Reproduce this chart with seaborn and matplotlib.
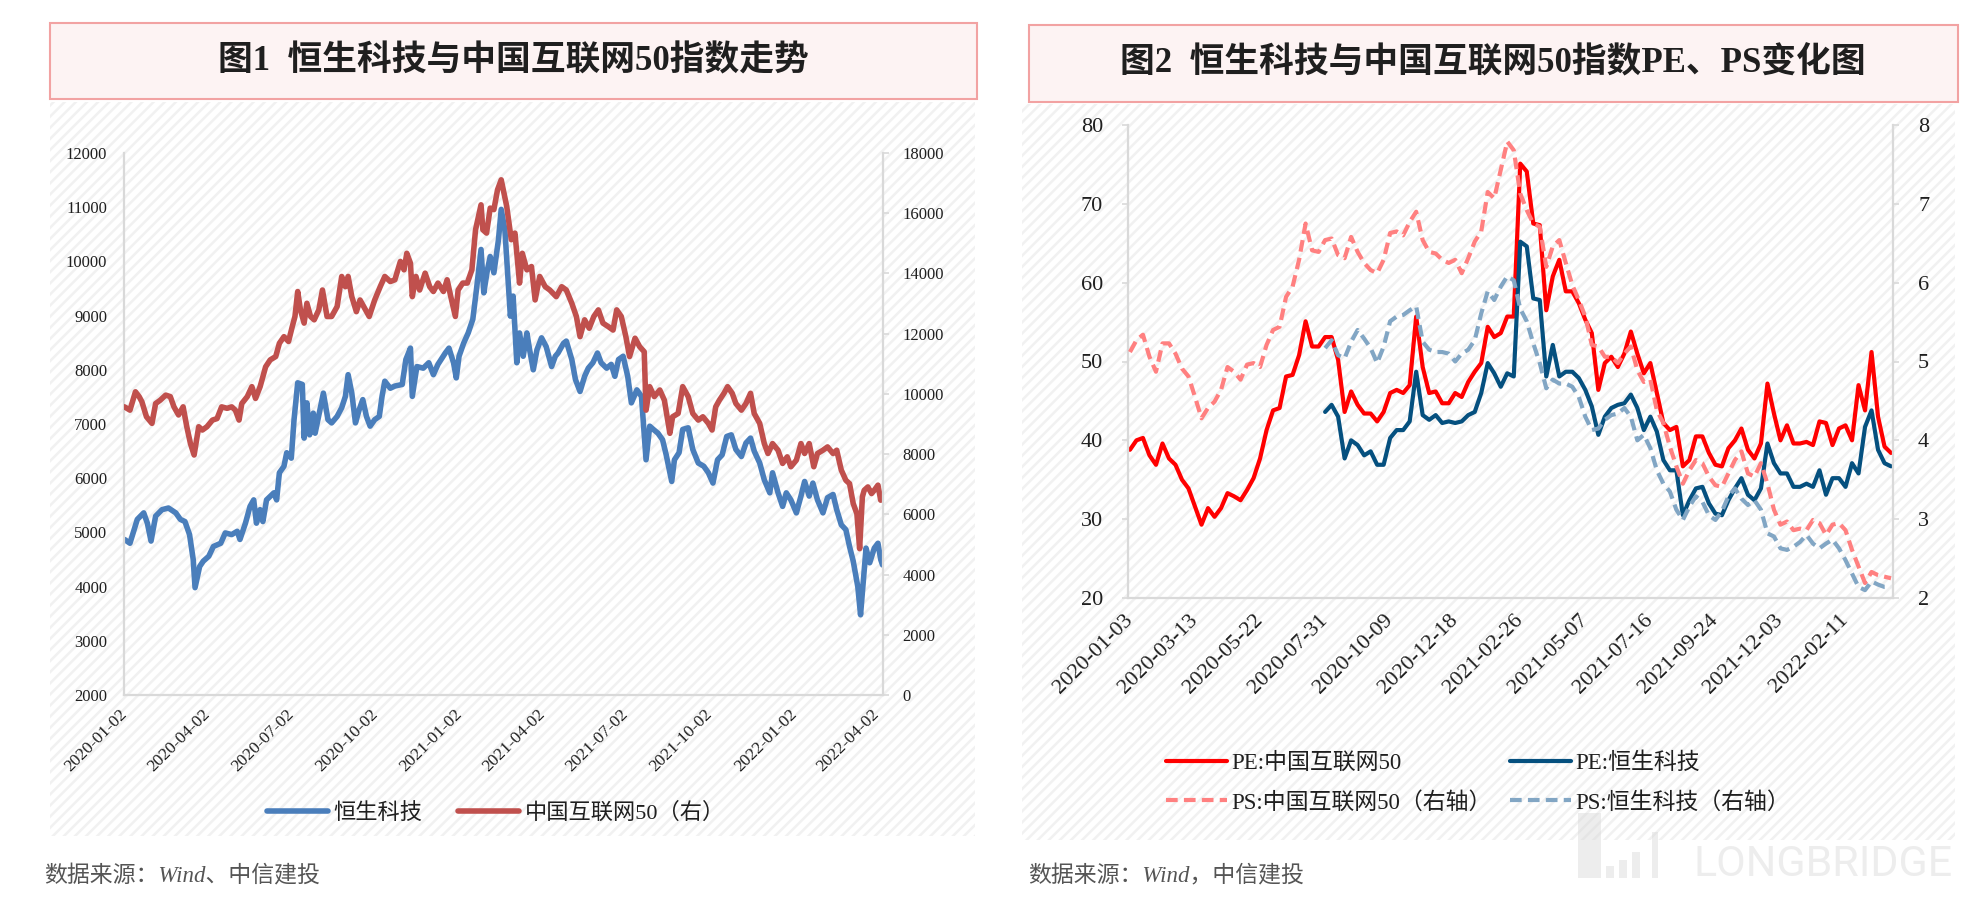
import numpy as np
import pandas as pd
import matplotlib
matplotlib.use("Agg")
import matplotlib.pyplot as plt
from matplotlib.patches import Rectangle
import seaborn as sns

# ---------------- Figure 1 data (daily index levels, sampled) ----------------
fig1_start = "2020-01-02"
# days since 2020-01-02 at which the values were read
hstech_day = [0, 6, 14, 21, 25, 29, 34, 41, 48, 56,
              61, 66, 71, 75, 77, 82, 86, 92, 97, 105,
              110, 117, 123, 126, 132, 137, 141, 144, 148, 151,
              155, 163, 166, 169, 174, 177, 182, 185, 189, 194,
              196, 199, 202, 206, 208, 214, 217, 222, 226, 232,
              237, 241, 244, 248, 252, 256, 260, 264, 268, 273,
              278, 281, 284, 290, 295, 303, 307, 312, 314, 319,
              326, 332, 337, 342, 350, 354, 359, 362, 365, 370,
              375, 380, 384, 389, 392, 396, 399, 403, 408, 411,
              415, 419, 421, 424, 428, 431, 435, 439, 442, 446,
              450, 455, 460, 466, 470, 473, 479, 482, 488, 492,
              497, 502, 506, 511, 516, 520, 526, 531, 535, 539,
              544, 549, 553, 559, 564, 569, 573, 577, 582, 587,
              591, 597, 600, 605, 609, 615, 620, 626, 632, 637,
              642, 647, 652, 657, 662, 667, 673, 678, 683, 687,
              693, 698, 704, 707, 713, 718, 722, 727, 733, 738,
              742, 747, 751, 756, 762, 767, 773, 777, 782, 787,
              791, 795, 798, 800, 803, 806, 809, 813, 818, 822,
              825, 827]
hstech_val = [4870, 4800, 5240, 5360, 5170, 4840, 5300, 5420, 5450, 5360,
              5240, 5200, 4960, 4500, 3980, 4370, 4470, 4560, 4740, 4800,
              4990, 4960, 5020, 4870, 5170, 5480, 5600, 5170, 5420, 5200,
              5600, 5730, 5600, 6100, 6220, 6470, 6370, 7080, 7760, 7730,
              6740, 7390, 6800, 7200, 6830, 7330, 7570, 7080, 7020, 7140,
              7300, 7510, 7910, 7570, 7020, 7260, 7450, 7140, 6960, 7080,
              7140, 7510, 7790, 7660, 7700, 7730, 8190, 8400, 7510, 8060,
              8030, 8130, 7910, 8100, 8310, 8400, 8130, 7850, 8250, 8490,
              8680, 8930, 9480, 10220, 9420, 9850, 10090, 9790, 10400, 10960,
              10580, 9540, 8990, 9360, 8130, 8680, 8250, 8680, 8370, 8000,
              8370, 8590, 8430, 8060, 8250, 8310, 8490, 8530, 8190, 7820,
              7600, 7880, 8030, 8130, 8310, 8130, 8030, 8100, 7880, 8190,
              8250, 7880, 7390, 7630, 7510, 6340, 6960, 6900, 6830, 6710,
              6430, 5940, 6340, 6470, 6900, 6930, 6530, 6280, 6220, 6100,
              5910, 6340, 6430, 6770, 6800, 6530, 6400, 6650, 6740, 6500,
              6280, 5970, 5730, 6100, 5730, 5480, 5730, 5600, 5360, 5670,
              5940, 5670, 5910, 5600, 5360, 5640, 5700, 5420, 5140, 5050,
              4740, 4470, 4190, 4000, 3480, 4100, 4710, 4440, 4710, 4800,
              4500, 4400]

cn50_day = [0, 6, 12, 16, 19, 24, 30, 34, 39, 45,
            50, 54, 59, 64, 68, 72, 76, 81, 85, 90,
            96, 101, 106, 112, 117, 121, 125, 128, 134, 139,
            143, 148, 154, 159, 165, 169, 174, 179, 183, 186,
            189, 192, 196, 199, 203, 207, 212, 216, 221, 226,
            232, 237, 241, 244, 248, 253, 257, 263, 267, 273,
            279, 284, 290, 295, 301, 305, 308, 312, 314, 318,
            322, 328, 333, 337, 342, 348, 352, 356, 361, 364,
            369, 374, 379, 383, 389, 391, 395, 399, 403, 407,
            411, 417, 422, 426, 431, 434, 439, 444, 448, 453,
            459, 464, 471, 477, 482, 488, 493, 497, 502, 507,
            512, 517, 522, 528, 533, 537, 542, 547, 551, 557,
            562, 567, 569, 573, 578, 584, 589, 595, 598, 604,
            609, 615, 620, 626, 631, 637, 641, 645, 649, 654,
            658, 663, 667, 673, 678, 683, 687, 693, 698, 702,
            707, 713, 718, 723, 727, 733, 738, 742, 747, 752,
            756, 762, 767, 773, 777, 782, 787, 791, 795, 799,
            802, 805, 807, 811, 815, 818, 822, 825, 827]
cn50_val = [9570, 9460, 10070, 9910, 9740, 9240, 9020, 9680, 9790, 9960,
            9910, 9570, 9300, 9570, 8910, 8350, 7970, 8910, 8800, 8910,
            9130, 9180, 9570, 9520, 9570, 9460, 9130, 9680, 9910, 10240,
            9850, 10240, 10900, 11130, 11240, 11680, 11900, 11740, 12230, 12570,
            13400, 12790, 12350, 13010, 12570, 12460, 12790, 13450, 12570, 12570,
            12900, 13900, 13560, 13900, 13230, 12730, 13120, 12790, 12570, 13120,
            13560, 13900, 13730, 13790, 14400, 14120, 14670, 14340, 13230, 13900,
            13450, 14010, 13560, 13400, 13680, 13400, 13790, 13230, 12570, 13450,
            13680, 13680, 14120, 15450, 16280, 15450, 15340, 16170, 16120, 16780,
            17110, 16230, 15120, 15340, 13680, 14670, 14120, 14230, 13120, 13900,
            13560, 13450, 13230, 13560, 13450, 13010, 12570, 11900, 12460, 12180,
            12570, 12790, 12350, 12230, 12120, 12790, 12570, 11900, 11240, 11850,
            11570, 11400, 9460, 10240, 9910, 10130, 9790, 8690, 9240, 9350,
            10240, 9910, 9350, 9130, 9240, 9020, 8800, 9570, 9790, 10020,
            10240, 10020, 9680, 9460, 9680, 10020, 9350, 9020, 8350, 8020,
            8350, 8130, 7690, 7910, 7580, 7800, 8350, 8020, 8350, 7580,
            8020, 8130, 8240, 8020, 8130, 7470, 7130, 7020, 6360, 6020,
            4860, 6580, 6800, 6910, 6690, 6800, 6970, 6470, 6500]

fig1_xticks = ["2020-01-02", "2020-04-02", "2020-07-02", "2020-10-02", "2021-01-02",
               "2021-04-02", "2021-07-02", "2021-10-02", "2022-01-02", "2022-04-02"]
fig1_left_ticks = [2000, 3000, 4000, 5000, 6000, 7000, 8000, 9000, 10000, 11000, 12000]
fig1_right_ticks = [0, 2000, 4000, 6000, 8000, 10000, 12000, 14000, 16000, 18000]

# ---------------- Figure 2 data (weekly, from 2020-01-03) ----------------
fig2_first_week = "2020-01-03"
fig2_xticklabels = ["2020-01-03", "2020-03-13", "2020-05-22", "2020-07-31", "2020-10-09",
                    "2020-12-18", "2021-02-26", "2021-05-07", "2021-07-16", "2021-09-24",
                    "2021-12-03", "2022-02-11"]
pe_cn50 = [38.8, 40.0, 40.3, 38.1, 36.9, 39.6, 37.7, 36.9, 35.0, 33.9,
           31.6, 29.3, 31.4, 30.3, 31.4, 33.3, 32.9, 32.4, 33.7, 35.2,
           37.7, 41.3, 43.8, 44.1, 48.1, 48.3, 50.8, 55.1, 51.9, 51.9,
           53.1, 53.1, 50.2, 43.6, 46.2, 44.5, 43.4, 43.4, 42.4, 43.6,
           46.0, 46.4, 46.0, 47.0, 55.7, 49.3, 46.0, 46.2, 44.7, 44.7,
           46.0, 45.5, 47.4, 48.7, 49.8, 54.4, 53.1, 53.6, 55.7, 55.7,
           75.1, 74.1, 67.5, 67.3, 56.5, 60.8, 62.9, 58.9, 58.9, 57.4,
           55.3, 53.6, 46.4, 49.8, 50.6, 49.3, 51.0, 53.8, 51.0, 48.5,
           49.8, 46.0, 42.2, 41.3, 41.7, 36.7, 37.5, 40.5, 40.5, 38.4,
           36.9, 36.7, 39.0, 40.0, 41.5, 38.8, 37.7, 39.6, 47.2, 43.4,
           40.0, 41.9, 39.6, 39.6, 39.8, 39.4, 42.4, 42.2, 39.4, 41.5,
           41.9, 40.0, 47.0, 43.8, 51.2, 43.0, 39.2, 38.4]
ps_cn50 = [5.12, 5.27, 5.34, 5.06, 4.87, 5.23, 5.23, 5.10, 4.91, 4.81,
           4.55, 4.28, 4.41, 4.49, 4.64, 4.93, 4.87, 4.77, 4.96, 4.98,
           4.93, 5.21, 5.40, 5.44, 5.82, 5.95, 6.29, 6.75, 6.41, 6.39,
           6.54, 6.56, 6.35, 6.31, 6.58, 6.39, 6.25, 6.16, 6.12, 6.29,
           6.63, 6.65, 6.60, 6.77, 6.90, 6.54, 6.39, 6.37, 6.29, 6.25,
           6.29, 6.12, 6.31, 6.52, 6.65, 7.15, 7.07, 7.43, 7.79, 7.68,
           7.13, 6.92, 6.75, 6.71, 6.20, 6.46, 6.54, 6.25, 5.97, 5.78,
           5.57, 5.21, 5.19, 5.06, 5.06, 4.98, 5.10, 5.19, 4.89, 4.74,
           4.77, 4.38, 4.22, 3.92, 3.67, 3.45, 3.62, 3.75, 3.71, 3.54,
           3.43, 3.41, 3.58, 3.75, 3.86, 3.58, 3.54, 3.71, 3.45, 3.12,
           2.93, 2.97, 2.86, 2.88, 2.86, 2.99, 2.95, 2.80, 2.93, 2.95,
           2.86, 2.61, 2.40, 2.19, 2.33, 2.29, 2.27, 2.25]
# Hang Seng Tech valuation series start at week 30 (2020-07-31)
hstech_first_week_index = 30
pe_hstech = [43.6, 44.5, 43.0, 37.7, 40.0, 39.4, 38.1, 38.6, 36.9, 36.9,
             40.3, 41.3, 41.3, 42.4, 48.7, 43.2, 42.6, 43.2, 42.2, 42.4,
             42.2, 42.4, 43.2, 43.6, 46.0, 49.8, 48.5, 46.8, 48.5, 48.1,
             65.2, 64.6, 58.0, 57.8, 48.1, 52.1, 48.1, 48.7, 48.7, 47.9,
             46.4, 44.3, 40.7, 43.0, 44.1, 44.5, 44.7, 45.8, 44.1, 41.3,
             43.0, 41.1, 37.5, 36.2, 36.2, 30.5, 32.4, 33.9, 34.1, 32.0,
             30.7, 30.5, 32.4, 33.9, 35.2, 33.1, 32.4, 33.9, 39.6, 37.1,
             35.8, 35.8, 34.1, 34.1, 34.5, 34.1, 36.2, 33.1, 35.2, 35.2,
             34.1, 37.1, 35.8, 41.7, 43.8, 38.8, 37.1, 36.7]
ps_hstech = [5.17, 5.27, 5.08, 5.04, 5.25, 5.40, 5.29, 5.17, 4.98, 5.19,
             5.51, 5.57, 5.59, 5.65, 5.70, 5.25, 5.15, 5.12, 5.12, 5.10,
             5.00, 5.10, 5.15, 5.27, 5.61, 5.89, 5.78, 5.95, 6.08, 6.03,
             5.67, 5.51, 5.23, 4.98, 4.66, 4.77, 4.72, 4.72, 4.68, 4.55,
             4.30, 4.13, 4.15, 4.26, 4.32, 4.34, 4.41, 4.30, 4.00, 4.07,
             3.90, 3.62, 3.45, 3.35, 3.12, 2.99, 3.16, 3.29, 3.22, 3.05,
             2.99, 3.10, 3.29, 3.39, 3.26, 3.18, 3.24, 3.12, 2.82, 2.78,
             2.63, 2.61, 2.65, 2.71, 2.80, 2.69, 2.63, 2.69, 2.74, 2.63,
             2.48, 2.31, 2.14, 2.10, 2.21, 2.17, 2.14, 2.14]
fig2_left_ticks = [20, 30, 40, 50, 60, 70, 80]
fig2_right_ticks = [2, 3, 4, 5, 6, 7, 8]

# ---------------- styling ----------------
sns.set_theme(style="white")
FAM = ["Liberation Serif", "Noto Sans CJK SC"]
plt.rcParams["font.family"] = FAM
plt.rcParams["axes.unicode_minus"] = False
plt.rcParams["hatch.linewidth"] = 1.8

TXT = "#1f1f1f"
SPINE = "#D9D9D9"
W, H = 1982, 902
fig = plt.figure(figsize=(W / 100, H / 100), dpi=100)
fig.patch.set_facecolor("white")

bg = fig.add_axes([0, 0, 1, 1], zorder=0)
bg.set_xlim(0, W)
bg.set_ylim(H, 0)
bg.axis("off")


def box(x0, y0, x1, y1, **kw):
    bg.add_patch(Rectangle((x0, y0), x1 - x0, y1 - y0, **kw))


box(50, 102, 975, 836, facecolor="white", edgecolor="#F1F1F1", hatch="///", linewidth=0)
box(1022, 104, 1955, 840, facecolor="white", edgecolor="#F1F1F1", hatch="///", linewidth=0)
box(50, 23, 977, 99, facecolor="#FDF3F3", edgecolor="#F2A2A2", linewidth=1.5)
box(1029, 25, 1958, 102, facecolor="#FDF3F3", edgecolor="#F2A2A2", linewidth=1.5)

# faint watermark, drawn over the hatched panel
WM = dict(facecolor="#D8D8D8", alpha=0.45, linewidth=0)
box(1578, 813, 1601, 878, **WM)
box(1606, 866, 1614, 878, **WM)
box(1619, 860, 1627, 878, **WM)
box(1632, 852, 1640, 878, **WM)
box(1652, 832, 1658, 878, **WM)
bg.text(1823, 864, "LONGBRIDGE", ha="center", va="center", fontsize=31,
        color="#D8D8D8", alpha=0.45, family="Roboto")

bg.text(513, 62, "图1  恒生科技与中国互联网50指数走势", ha="center", va="center",
        fontsize=25, fontweight="bold", color=TXT, family=FAM)
bg.text(1493, 64, "图2  恒生科技与中国互联网50指数PE、PS变化图", ha="center", va="center",
        fontsize=25, fontweight="bold", color=TXT, family=FAM)
bg.text(44, 876, "数据来源：Wind、中信建投", ha="left", va="center", fontsize=16.5,
        color="#555555", style="italic", family=FAM)
bg.text(1028, 876, "数据来源：Wind，中信建投", ha="left", va="center", fontsize=16.5,
        color="#555555", style="italic", family=FAM)


def style_axes(a, ar):
    for a_ in (a, ar):
        a_.patch.set_visible(False)
        a_.grid(False)
        a_.set_xlabel("")
        a_.set_ylabel("")
        for s in a_.spines.values():
            s.set_visible(False)
    a.spines["left"].set_visible(True)
    a.spines["bottom"].set_visible(True)
    ar.spines["right"].set_visible(True)
    for s in (a.spines["left"], a.spines["bottom"], ar.spines["right"]):
        s.set_color(SPINE)
        s.set_linewidth(1.6)


def grab_legend(*axs):
    hs, ls = [], []
    for a_ in axs:
        h, l = a_.get_legend_handles_labels()
        hs += h
        ls += l
        if a_.get_legend() is not None:
            a_.get_legend().remove()
    return hs, ls


# ---------------- Figure 1 ----------------
ax1 = fig.add_axes([124 / W, 1 - 695 / H, 759 / W, 542 / H], zorder=2)
ax1r = ax1.twinx()
ax1r.set_zorder(3)
t0 = pd.Timestamp(fig1_start)
df_hs = pd.DataFrame({"date": t0 + pd.to_timedelta(hstech_day, unit="D"), "v": hstech_val})
df_cn = pd.DataFrame({"date": t0 + pd.to_timedelta(cn50_day, unit="D"), "v": cn50_val})
sns.lineplot(data=df_hs, x="date", y="v", ax=ax1, color="#4A7EBB", linewidth=4.0,
             label="恒生科技")
sns.lineplot(data=df_cn, x="date", y="v", ax=ax1r, color="#C0504D", linewidth=4.0,
             label="中国互联网50（右）")
style_axes(ax1, ax1r)
ax1.set_ylim(fig1_left_ticks[0], fig1_left_ticks[-1])
ax1.set_yticks(fig1_left_ticks)
ax1r.set_ylim(fig1_right_ticks[0], fig1_right_ticks[-1])
ax1r.set_yticks(fig1_right_ticks)
ax1.set_xlim(t0 - pd.Timedelta(days=0.5), t0 + pd.Timedelta(days=827.5))
ax1.set_xticks(pd.to_datetime(fig1_xticks))
ax1.set_xticklabels(fig1_xticks, rotation=45, ha="right", va="center", rotation_mode="anchor")
ax1.tick_params(axis="x", length=4, width=1.2, color=SPINE, labelsize=12.5, pad=8,
                labelcolor=TXT)
ax1.tick_params(axis="y", length=0, labelsize=12, pad=12, labelcolor=TXT)
ax1r.tick_params(axis="y", length=4, width=1.2, color=SPINE, labelsize=12, pad=10,
                 labelcolor=TXT)
h1, l1 = grab_legend(ax1, ax1r)
fig.legend(h1, l1, loc="center", bbox_to_anchor=(496 / W, 1 - 813 / H), ncol=2,
           frameon=False, prop={"family": FAM, "size": 16}, handlelength=2.75,
           handletextpad=0.25, columnspacing=1.6, labelcolor=TXT)

# ---------------- Figure 2 ----------------
ax2 = fig.add_axes([1128 / W, 1 - 598 / H, 765 / W, 473 / H], zorder=2)
ax2r = ax2.twinx()
ax2r.set_zorder(3)
weeks_all = list(range(len(pe_cn50)))
weeks_hs = list(range(hstech_first_week_index, hstech_first_week_index + len(pe_hstech)))
sns.lineplot(x=weeks_all, y=pe_cn50, ax=ax2, color="#FF0000", linewidth=3.0,
             label="PE:中国互联网50")
sns.lineplot(x=weeks_hs, y=pe_hstech, ax=ax2, color="#05507F", linewidth=3.0,
             label="PE:恒生科技")
sns.lineplot(x=weeks_all, y=ps_cn50, ax=ax2r, color="#FF8080", linewidth=3.0,
             label="PS:中国互联网50（右轴）")
sns.lineplot(x=weeks_hs, y=ps_hstech, ax=ax2r, color="#82A6C4", linewidth=3.0,
             label="PS:恒生科技（右轴）")
for ln in ax2r.get_lines():
    ln.set_dashes((2.8, 1.5))
style_axes(ax2, ax2r)
ax2.set_ylim(fig2_left_ticks[0], fig2_left_ticks[-1])
ax2.set_yticks(fig2_left_ticks)
ax2r.set_ylim(fig2_right_ticks[0], fig2_right_ticks[-1])
ax2r.set_yticks(fig2_right_ticks)
ax2.set_xlim(-0.3, len(pe_cn50) - 1 + 0.3)
ax2.set_xticks(list(range(0, 10 * len(fig2_xticklabels), 10)))
ax2.set_xticklabels(fig2_xticklabels, rotation=45, ha="right", va="center",
                    rotation_mode="anchor")
ax2.tick_params(axis="x", length=0, labelsize=16, pad=14, labelcolor=TXT)
ax2.tick_params(axis="y", length=4, width=1.2, color=SPINE, direction="out",
                labelsize=16, pad=14, labelcolor=TXT)
ax2r.tick_params(axis="y", length=4, width=1.2, color=SPINE, labelsize=16, pad=14,
                 labelcolor=TXT)
h2, l2 = grab_legend(ax2, ax2r)
order = [0, 2, 1, 3]
fig.legend([h2[i] for i in order], [l2[i] for i in order], loc="center",
           bbox_to_anchor=(1478 / W, 1 - 783 / H), ncol=2, frameon=False,
           prop={"family": FAM, "size": 16.5}, handlelength=2.65,
           handletextpad=0.2, columnspacing=0.8, labelspacing=0.75,
           labelcolor=TXT)

fig.savefig("out.png", dpi=100, facecolor="white")
